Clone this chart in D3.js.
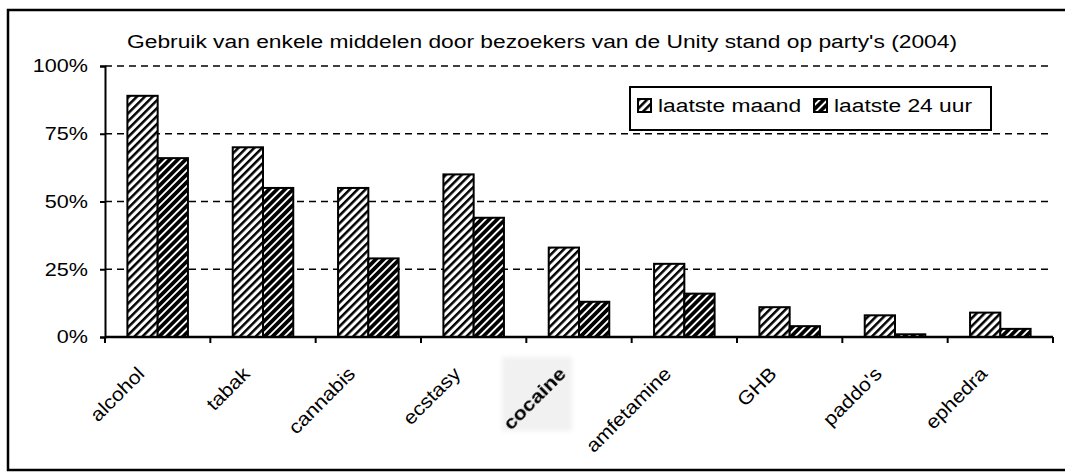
<!DOCTYPE html>
<html>
<head>
<meta charset="utf-8">
<script src="https://cdn.jsdelivr.net/npm/d3@7"></script>
<style>
  body { margin: 0; background: #fff; }
  text { font-family: "Liberation Sans", Arial, sans-serif; fill: #000; }
</style>
</head>
<body>
<div id="container"></div>
<script>
// chart data
const categories = ["alcohol", "tabak", "cannabis", "ecstasy", "cocaine", "amfetamine", "GHB", "paddo's", "ephedra"];
const seriesNames = ["laatste maand", "laatste 24 uur"];
const lastMonth = [0.89, 0.70, 0.55, 0.60, 0.33, 0.27, 0.11, 0.08, 0.09];
const last24h = [0.66, 0.55, 0.29, 0.44, 0.13, 0.16, 0.04, 0.01, 0.03];
const yTicks = [0, 0.25, 0.5, 0.75, 1];
const titleText = "Gebruik van enkele middelen door bezoekers van de Unity stand op party's (2004)";

function BuildChart(){
  let width = 1065;
  let height = 472;
  let left = 105, right = 1053, top = 66, bottom = 337;
  let fontSize = 19;
  let stretch = 1.2;  // the original type is set rather wide
  let labelStretch = 1.12;

  let svg = d3.select('#container')
    .append('svg')
    .attr('width', width)
    .attr('height', height);

  // hatch patterns
  let defs = svg.append('defs');
  let pat = [
    {id: 'hatchLight', black: 2.5},
    {id: 'hatchDark', black: 3.7}
  ];
  pat.forEach(p => {
    let pt = defs.append('pattern')
      .attr('id', p.id)
      .attr('patternUnits', 'userSpaceOnUse')
      .attr('width', 5.6)
      .attr('height', 10)
      .attr('patternTransform', 'rotate(45)');
    pt.append('rect').attr('width', 5.6).attr('height', 10).attr('fill', '#fff');
    pt.append('rect').attr('width', p.black).attr('height', 10).attr('fill', '#000');
  });
  let blur = defs.append('filter').attr('id', 'soft')
    .attr('x', '-20%').attr('y', '-20%').attr('width', '140%').attr('height', '140%');
  blur.append('feGaussianBlur').attr('stdDeviation', 0.45);
  let blur2 = defs.append('filter').attr('id', 'softer')
    .attr('x', '-20%').attr('y', '-20%').attr('width', '140%').attr('height', '140%');
  blur2.append('feGaussianBlur').attr('stdDeviation', 2.5);

  // outer frame
  svg.append('rect')
    .attr('x', 8).attr('y', 10)
    .attr('width', width).attr('height', 460)
    .attr('fill', '#fff')
    .attr('stroke', '#000')
    .attr('stroke-width', 2.5);

  // scales
  let x0 = d3.scaleBand()
    .domain(categories)
    .range([left, right]);
  let x1 = d3.scaleBand()
    .domain(seriesNames)
    .range([0, x0.bandwidth()])
    .paddingOuter(0.74);
  let y = d3.scaleLinear()
    .domain([0, 1])
    .range([bottom, top]);

  // title
  svg.append('text')
    .attr('transform', 'translate(' + 542 + ',48) scale(' + stretch + ',1)')
    .attr('text-anchor', 'middle')
    .style('font-size', fontSize + 'px')
    .text(titleText);

  // gridlines
  svg.append('g')
    .selectAll('line')
    .data(yTicks.filter(d => d > 0))
    .enter()
    .append('line')
    .attr('x1', left).attr('x2', right)
    .attr('y1', d => y(d)).attr('y2', d => y(d))
    .attr('stroke', '#000')
    .attr('stroke-width', 1.5)
    .attr('stroke-dasharray', '7,5');

  // bars
  let rows = categories.map((c, i) => ({cat: c, vals: [lastMonth[i], last24h[i]]}));
  let groups = svg.append('g')
    .selectAll('g')
    .data(rows)
    .enter()
    .append('g')
    .attr('transform', d => 'translate(' + x0(d.cat) + ',0)');
  groups.selectAll('rect')
    .data(d => d.vals.map((v, j) => ({series: seriesNames[j], v: v, j: j})))
    .enter()
    .append('rect')
    .attr('x', d => x1(d.series))
    .attr('y', d => y(d.v))
    .attr('width', x1.bandwidth())
    .attr('height', d => y(0) - y(d.v))
    .attr('fill', d => d.j == 0 ? 'url(#hatchLight)' : 'url(#hatchDark)')
    .attr('stroke', '#000')
    .attr('stroke-width', 2);

  // y axis
  let yAxis = d3.axisLeft(y)
    .tickValues(yTicks)
    .tickSize(5)
    .tickFormat(d3.format('.0%'));
  let yg = svg.append('g')
    .attr('transform', 'translate(' + left + ',0)')
    .call(yAxis);
  yg.select('.domain').attr('stroke-width', 2);
  yg.selectAll('.tick line').attr('stroke-width', 2);
  yg.selectAll('.tick text')
    .attr('x', 0)
    .attr('transform', 'translate(-17,0) scale(' + stretch + ',1)')
    .style('font-size', '18px')
    .style('font-family', '"Liberation Sans", Arial, sans-serif');

  // x axis line and ticks at category boundaries
  let xg = svg.append('g');
  xg.append('line')
    .attr('x1', left).attr('x2', right)
    .attr('y1', y(0)).attr('y2', y(0))
    .attr('stroke', '#000').attr('stroke-width', 2.5);
  let bounds = categories.map(c => x0(c)).concat([right]);
  xg.selectAll('.xtick')
    .data(bounds)
    .enter()
    .append('line')
    .attr('class', 'xtick')
    .attr('x1', d => d).attr('x2', d => d)
    .attr('y1', y(0)).attr('y2', y(0) + 6)
    .attr('stroke', '#000').attr('stroke-width', 2);

  // category labels
  let cx = d => x0(d) + x0.bandwidth() / 2;
  // the cocaine label sits on a pasted, greyish patch
  xg.append('rect')
    .attr('x', cx('cocaine') - 77)
    .attr('y', y(0) + 20)
    .attr('width', 70)
    .attr('height', 74)
    .attr('fill', '#f1f1f1')
    .attr('filter', 'url(#softer)');
  xg.selectAll('.xlabel')
    .data(categories)
    .enter()
    .append('text')
    .attr('class', 'xlabel')
    .attr('text-anchor', 'end')
    .attr('transform', d => 'translate(' + (cx(d) - 12) + ',' + (y(0) + 38) + ') rotate(-45) scale(' + labelStretch + ',1)')
    .style('font-size', fontSize + 'px')
    .style('font-weight', d => d == 'cocaine' ? 'bold' : 'normal')
    .attr('filter', d => d == 'cocaine' ? 'url(#soft)' : null)
    .text(d => d);

  // legend
  let lg = svg.append('g');
  lg.append('rect')
    .attr('x', 630).attr('y', 87)
    .attr('width', 361).attr('height', 43)
    .attr('fill', '#fff')
    .attr('stroke', '#000')
    .attr('stroke-width', 2);
  let items = lg.selectAll('.item')
    .data(seriesNames)
    .enter()
    .append('g')
    .attr('class', 'item')
    .attr('transform', (d, i) => 'translate(' + (i == 0 ? 638 : 814) + ',99)');
  items.append('rect')
    .attr('width', 13).attr('height', 13)
    .attr('fill', (d, i) => i == 0 ? 'url(#hatchLight)' : 'url(#hatchDark)')
    .attr('stroke', '#000')
    .attr('stroke-width', 2);
  items.append('text')
    .attr('transform', 'translate(20,13) scale(' + stretch + ',1)')
    .style('font-size', fontSize + 'px')
    .text(d => d);
}

BuildChart();
</script>
</body>
</html>
